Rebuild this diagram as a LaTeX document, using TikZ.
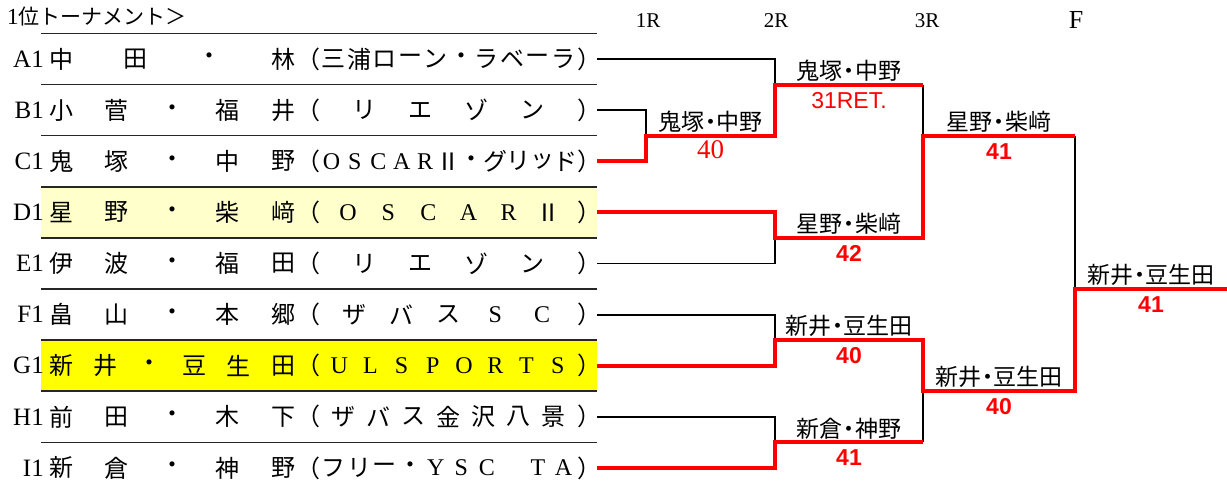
\documentclass[tikz,border=0pt]{standalone}
\usepackage{fontspec}
\setmainfont{Liberation Serif}
\newfontfamily\jp{Noto Sans CJK JP}
\newfontfamily\arial{Liberation Sans}
\newcommand\lat[1]{{\rmfamily #1}}
\newcommand\dt{\kern-0.22em・\kern-0.22em}
\definecolor{paleyellow}{HTML}{FFFFCC}
\definecolor{brightyellow}{HTML}{FFFF00}
\definecolor{winred}{HTML}{FF0000}
\tikzset{
  cell/.style={font=\jp\fontsize{24}{24}\selectfont, inner sep=0pt, anchor=center},
  rowlab/.style={font=\fontsize{25}{25}\selectfont, inner sep=0pt, anchor=east},
  sepline/.style={line width=1.5pt, draw=black!85},
  loseline/.style={line width=1.8pt, draw=black},
  winline/.style={line width=4pt, draw=winred, line join=miter},
  mlabel/.style={font=\jp\fontsize{23}{23}\selectfont, inner sep=0pt, anchor=south},
  score/.style={font=\arial\bfseries\fontsize{23}{23}\selectfont, text=winred, inner sep=0pt, anchor=north},
  scorereg/.style={score, font=\arial\fontsize{23}{23}\selectfont},
  scoreserif/.style={score, font=\rmfamily\fontsize{27}{27}\selectfont},
  rhead/.style={font=\fontsize{21}{21}\selectfont, inner sep=0pt}
}
% #1 name prefix, #2 y, #3 x first, #4 x last, #5 count, #6 list
\newcommand\distrib[6]{%
  \foreach \ch [count=\k] in {#6} {%
    \ifx\ch\empty\else
      \pgfmathsetmacro\xx{#3+(\k-1)*(#4-#3)/(#5-1)}%
      \node[cell] (#1\k) at (\xx,#2) {\ch};%
    \fi
  }%
}
\begin{document}
\begin{tikzpicture}[x=1pt,y=-1pt]
\useasboundingbox (0,0) rectangle (1227,490);
\fill[white] (0,0) rectangle (1227,490);

% highlighted rows
\fill[paleyellow] (41,186.8) rectangle (597,237.9);
\fill[brightyellow] (41,340.1) rectangle (597,391.2);

% separators
\foreach \yy in {33.5,84.6,135.7,186.8,237.9,289,340.1,391.2,442.3}
  \draw[sepline] (41,\yy) -- (597,\yy);

% header
\node[anchor=west, inner sep=0pt, font=\fontsize{23}{23}\selectfont] (title) at (7,17) {1{\jp\fontsize{21}{21}\selectfont 位トーナメント＞}};
\node[rhead] (h1) at (648,21) {1R};
\node[rhead] (h2) at (776,21) {2R};
\node[rhead] (h3) at (927,21) {3R};
\node[rhead, font=\fontsize{26}{26}\selectfont] (h4) at (1076,20) {F};

% row labels
\node[rowlab] (lA) at (44,59) {A1};
\node[rowlab] (lB) at (44,110.2) {B1};
\node[rowlab] (lC) at (44,161.3) {C1};
\node[rowlab] (lD) at (44,212.4) {D1};
\node[rowlab] (lE) at (44,263.5) {E1};
\node[rowlab] (lF) at (44,314.6) {F1};
\node[rowlab] (lG) at (44,365.7) {G1};
\node[rowlab] (lH) at (44,416.8) {H1};
\node[rowlab] (lI) at (44,467.9) {I1};

% player names
\distrib{nA}{59}{61}{283}{4}{中,田,・,林}
\distrib{nB}{110.2}{61}{283}{5}{小,菅,・,福,井}
\distrib{nC}{161.3}{61}{283}{5}{鬼,塚,・,中,野}
\distrib{nD}{212.4}{61}{283}{5}{星,野,・,柴,﨑}
\distrib{nE}{263.5}{61}{283}{5}{伊,波,・,福,田}
\distrib{nF}{314.6}{61}{283}{5}{畠,山,・,本,郷}
\distrib{nG}{365.7}{61}{283}{6}{新,井,・,豆,生,田}
\distrib{nH}{416.8}{61}{283}{5}{前,田,・,木,下}
\distrib{nI}{467.9}{61}{283}{5}{新,倉,・,神,野}

% teams
\distrib{tA}{59}{308}{589}{12}{（,三,浦,ロ,ー,ン,・,ラ,ベ,ー,ラ,）}
\distrib{tB}{110.2}{308}{589}{6}{（,リ,エ,ゾ,ン,）}
\distrib{tC}{161.3}{308}{589}{13}{（,\lat{O},\lat{S},\lat{C},\lat{A},\lat{R},Ⅱ,・,グ,リ,ッ,ド,）}
\distrib{tD}{212.4}{308}{589}{8}{（,\lat{O},\lat{S},\lat{C},\lat{A},\lat{R},Ⅱ,）}
\distrib{tE}{263.5}{308}{589}{6}{（,リ,エ,ゾ,ン,）}
\distrib{tF}{314.6}{308}{589}{7}{（,ザ,バ,ス,\lat{S},\lat{C},）}
\distrib{tG}{365.7}{308}{589}{10}{（,\lat{U},\lat{L},\lat{S},\lat{P},\lat{O},\lat{R},\lat{T},\lat{S},）}
\distrib{tH}{416.8}{308}{589}{9}{（,ザ,バ,ス,金,沢,八,景,）}
\distrib{tI}{467.9}{308}{589}{12}{（,フ,リ,ー,・,\lat{Y},\lat{S},\lat{C},{},\lat{T},\lat{A},）}

% bracket coordinates
\coordinate (eA) at (597,59);
\coordinate (eB) at (597,110.2);
\coordinate (eC) at (597,161.3);
\coordinate (eD) at (597,212.4);
\coordinate (eE) at (597,263.5);
\coordinate (eF) at (597,314.6);
\coordinate (eG) at (597,365.7);
\coordinate (eH) at (597,416.8);
\coordinate (eI) at (597,467.9);
\coordinate (m1) at (646,135.7);
\coordinate (m2a) at (775,84.6);
\coordinate (m2b) at (775,237.9);
\coordinate (m2c) at (775,340.1);
\coordinate (m2d) at (775,442.3);
\coordinate (m3a) at (923,135.7);
\coordinate (m3b) at (923,391.2);
\coordinate (mf) at (1075,289);
\coordinate (champ) at (1227,289);

% losing lines
\draw[loseline] (eA) -| (m2a);
\draw[loseline] (eB) -| (m1);
\draw[loseline] (m2a -| m3a) -- (m3a);
\draw[loseline] (eE) -| (m2b);
\draw[loseline] (m3a -| mf) -- (mf);
\draw[loseline] (eF) -| (m2c);
\draw[loseline] (eH) -| (m2d);
\draw[loseline] (m2d -| m3b) -- (m3b);

% winning lines
\draw[winline] (eC) -| (m1) -| (m2a) -- (m2a -| m3a);
\draw[winline] (eD) -| (m2b) -| (m3a) -- (m3a -| mf);
\draw[winline] (eG) -| (m2c) -| (m3b) -| (mf) -- (champ);
\draw[winline] (eI) -| (m2d) -- (m2d -| m3b);

% match labels
\node[mlabel] (w1) at (710.5,132.5) {鬼塚\dt 中野};
\node[scoreserif] (s1) at (710.5,140) {40};
\node[mlabel] (w2a) at (849,81.5) {鬼塚\dt 中野};
\node[scorereg] (s2a) at (849,92) {31RET.};
\node[mlabel] (w2b) at (849,234.8) {星野\dt 柴﨑};
\node[score] (s2b) at (849,245) {42};
\node[mlabel] (w2c) at (849,337) {新井\dt 豆生田};
\node[score] (s2c) at (849,347) {40};
\node[mlabel] (w2d) at (849,439.2) {新倉\dt 神野};
\node[score] (s2d) at (849,449) {41};
\node[mlabel] (w3a) at (999,132.6) {星野\dt 柴﨑};
\node[score] (s3a) at (999,143) {41};
\node[mlabel] (w3b) at (999,388.1) {新井\dt 豆生田};
\node[score] (s3b) at (999,398) {40};
\node[mlabel] (wf) at (1151,285.9) {新井\dt 豆生田};
\node[score] (sf) at (1151,296) {41};
\end{tikzpicture}
\end{document}
